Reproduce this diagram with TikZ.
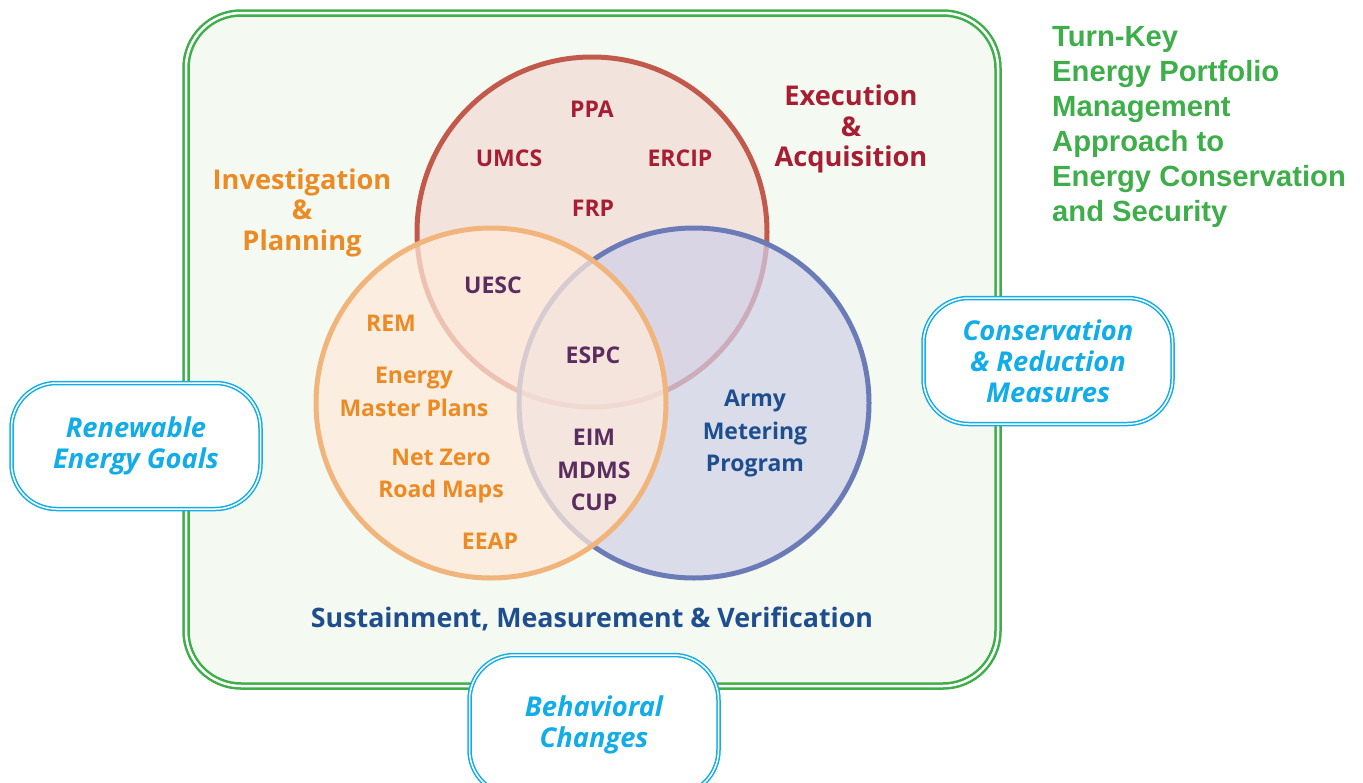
\documentclass[tikz,border=0pt]{standalone}
\usepackage{fontspec}
\setmainfont{Open Sans}
\newfontfamily\arialfont{Liberation Sans}

\definecolor{framegreen}{HTML}{3DAE49}
\definecolor{framefill}{HTML}{F4F9F2}
\definecolor{execred}{HTML}{A71E32}
\definecolor{planorange}{HTML}{EC8A24}
\definecolor{mixpurple}{HTML}{5A2C5F}
\definecolor{sustblue}{HTML}{1E4E8E}
\definecolor{goalcyan}{HTML}{12ACE8}
\definecolor{redring}{HTML}{C25A4C}
\definecolor{orangering}{HTML}{F1B47A}
\definecolor{bluering}{HTML}{6B7BB7}
\definecolor{redfill}{HTML}{F2E3DD}
\definecolor{orangefill}{HTML}{FFEBDA}
\definecolor{bluefill}{HTML}{CFD0E7}

\begin{document}
\begin{tikzpicture}[x=1pt, y=-1pt,
  frame/.style={draw=framegreen, double=white, double distance=2.5pt, line width=2.5pt, fill=framefill, rounded corners=55pt},
  ring/.style={line width=5pt},
  lbl/.style={font=\bfseries\fontsize{23}{32.5}\selectfont, align=center, inner sep=0pt},
  head/.style={font=\bfseries\fontsize{27.2}{30.5}\selectfont, align=center, inner sep=0pt},
  goal/.style={draw=goalcyan, double=white, double distance=1.5pt, line width=1.5pt, fill=white,
    rounded corners=45pt, minimum width=249pt, minimum height=126pt, text=goalcyan,
    font=\bfseries\itshape\fontsize{27.3}{31}\selectfont, align=center}
]
\useasboundingbox (0,0) rectangle (1363,782);

% --- frame ---
\draw[frame] (186,13) rectangle (998,686);

% --- circles (red, blue, orange on top) ---
\draw[ring, draw=redring, fill=redfill] (592,232) circle (175pt);
\draw[ring, draw=bluering, fill=bluefill, fill opacity=0.7] (694,403) circle (175pt);
\draw[ring, draw=orangering, fill=orangefill, fill opacity=0.72] (491,403) circle (175pt);

% --- group headings ---
\node[head, text=execred] (exec) at (851,129) {Execution\\\&\\Acquisition};
\node[head, text=planorange] (inv) at (302,212.5) {Investigation\\\&\\Planning};

% --- red circle ---
\node[lbl, text=execred] (ppa) at (592,109) {PPA};
\node[lbl, text=execred] (umcs) at (509,158) {UMCS};
\node[lbl, text=execred] (ercip) at (680,158) {ERCIP};
\node[lbl, text=execred] (frp) at (593,208) {FRP};

% --- orange circle ---
\node[lbl, text=planorange] (rem) at (391,323) {REM};
\node[lbl, text=planorange] (emp) at (414,392) {Energy\\Master Plans};
\node[lbl, text=planorange] (nzr) at (441,476) {Net Zero\\Road Maps};
\node[lbl, text=planorange] (eeap) at (490,541) {EEAP};

% --- overlaps ---
\node[lbl, text=mixpurple] (uesc) at (493,285) {UESC};
\node[lbl, text=mixpurple] (espc) at (593,355) {ESPC};
\node[lbl, text=mixpurple] (eim) at (594,470) {EIM\\MDMS\\CUP};

% --- blue circle ---
\node[lbl, text=sustblue] (amp) at (755,434) {Army\\Metering\\Program};
\node[font=\bfseries\fontsize{26.8}{30}\selectfont, text=sustblue, inner sep=0pt] (smv) at (592,619)
  {Sustainment, Measurement \& Verification};

% --- title ---
\node[anchor=west, align=left, inner sep=0pt, text=framegreen,
  font=\arialfont\bfseries\fontsize{29.2}{35}\selectfont] (title) at (1052,126.5)
  {Turn-Key\\Energy Portfolio\\Management\\Approach to\\Energy Conservation\\and Security};

% --- goal boxes ---
\node[goal] (reg) at (136,446) {Renewable\\Energy Goals};
\node[goal] (crm) at (1048,361) {Conservation\\\& Reduction\\Measures};
\node[goal, minimum height=140pt] (bch) at (594,725) {Behavioral\\Changes};

\end{tikzpicture}
\end{document}
